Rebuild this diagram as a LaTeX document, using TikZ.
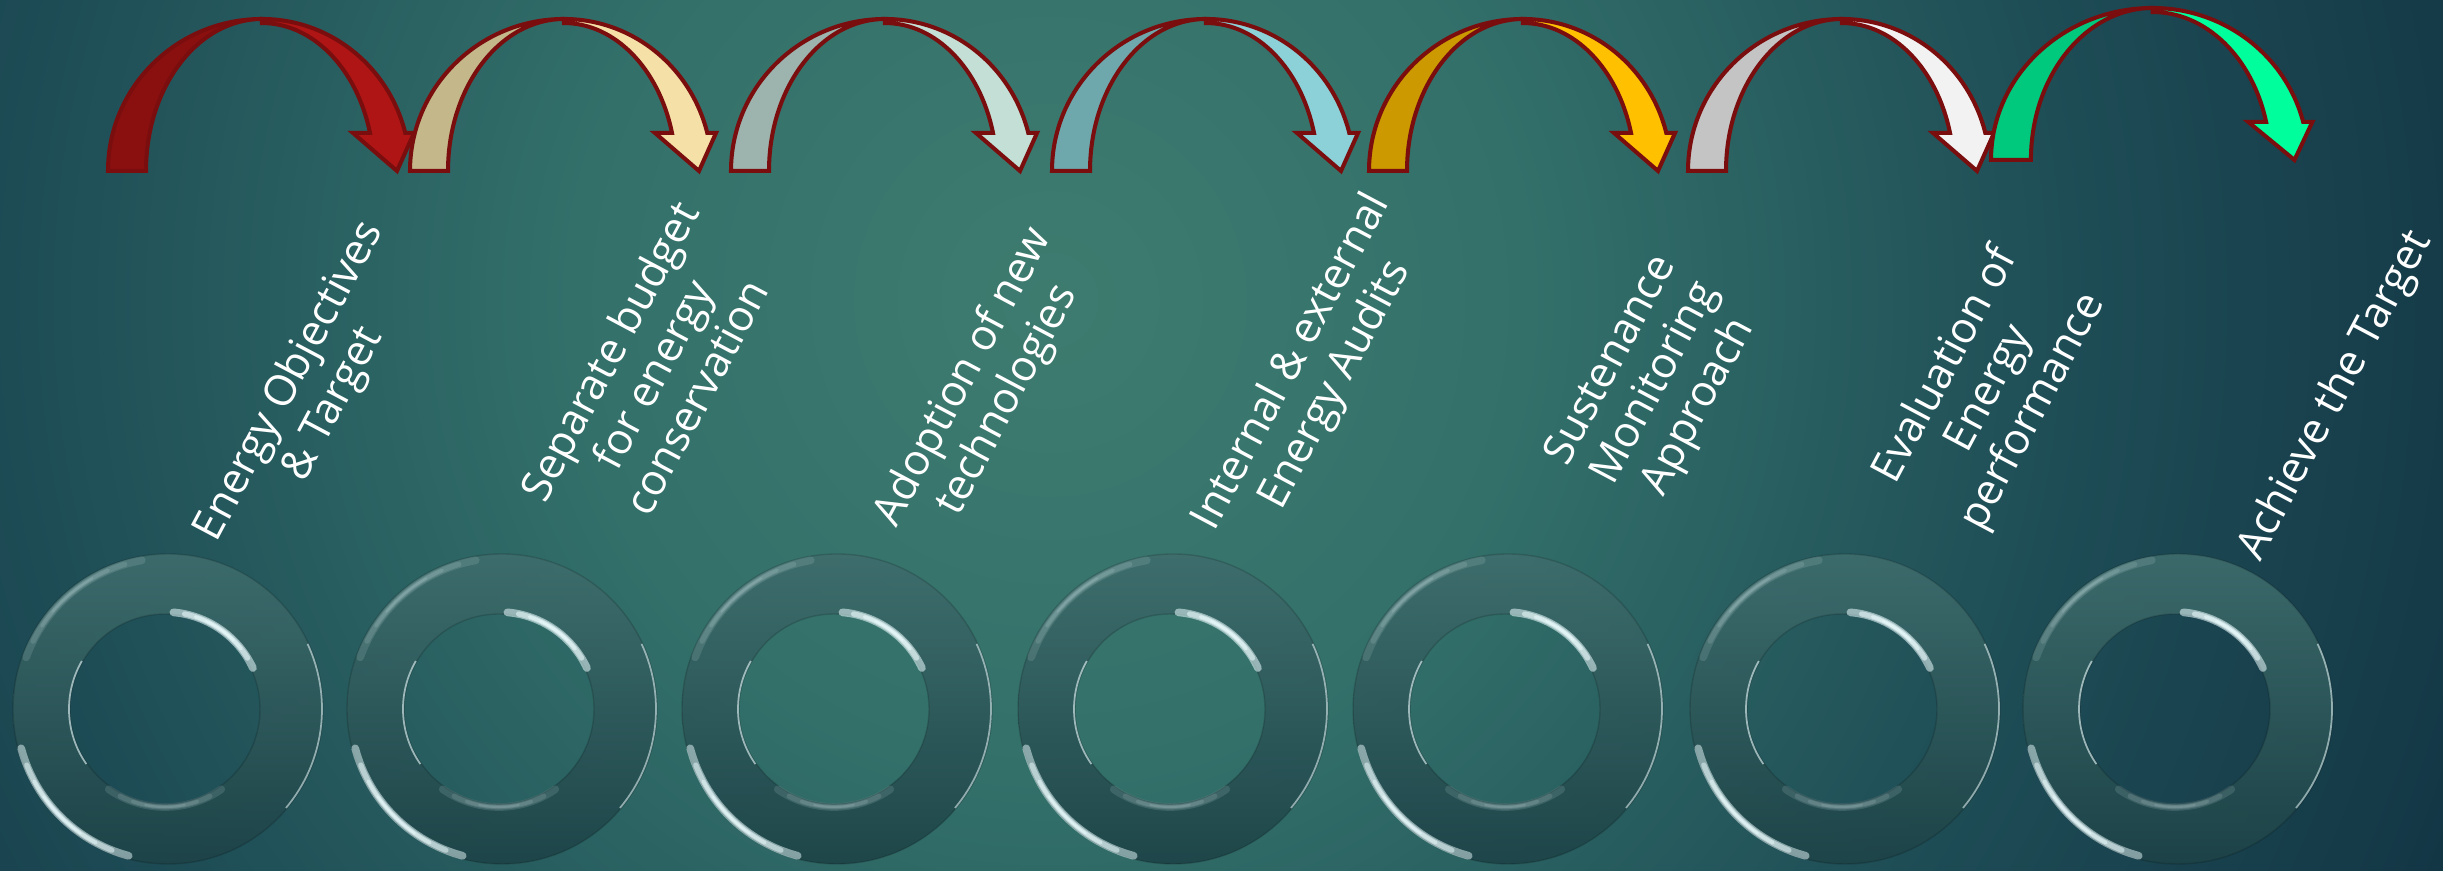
\documentclass[tikz,border=0pt]{standalone}
\usepackage{fontspec}
\setmainfont{Open Sans}
\definecolor{bgmid}{HTML}{3E7B6F}
\definecolor{bgnear}{HTML}{33706A}
\definecolor{bgfar}{HTML}{1E4D56}
\definecolor{bgedge}{HTML}{133645}
\definecolor{hopedge}{HTML}{7A0E0E}
\definecolor{ringtop}{HTML}{3F6D6D}
\definecolor{ringbot}{HTML}{1D4347}
\definecolor{glint}{HTML}{EAFBFD}
\definecolor{redback}{HTML}{8A1010}
\definecolor{redfront}{HTML}{B01515}
\definecolor{tanback}{HTML}{C4B88A}
\definecolor{tanfront}{HTML}{F5E1A8}
\definecolor{sageback}{HTML}{9DB3AD}
\definecolor{sagefront}{HTML}{C4E0D6}
\definecolor{tealback}{HTML}{6EA8AD}
\definecolor{tealfront}{HTML}{8CD0D8}
\definecolor{goldback}{HTML}{CC9900}
\definecolor{goldfront}{HTML}{FFC000}
\definecolor{greyback}{HTML}{C4C4C4}
\definecolor{greyfront}{HTML}{F2F2F2}
\definecolor{mintback}{HTML}{00C97E}
\definecolor{mintfront}{HTML}{00FF9C}
\pgfdeclareradialshading{bgglow}{\pgfpoint{0bp}{0bp}}{color(0bp)=(bgmid); color(8bp)=(bgnear); color(17bp)=(bgfar); color(25bp)=(bgedge); color(50bp)=(bgedge)}
\newcommand{\hoparrow}[5][1]{%
  \begin{scope}[shift={(#2,#3)}, xscale=#1]
    \filldraw[hopline, fill=#4] (0,0) arc[start angle=180, end angle=90, x radius=154, y radius=152]
      arc[start angle=90, end angle=180, x radius=116, y radius=152] -- cycle;
    \filldraw[hopline, fill=#5] (154,152) arc[start angle=90, end angle=14.5, x radius=148, y radius=152]
      -- (306,38) -- (289,0) -- (245,38) -- (262,38)
      arc[start angle=15.2, end angle=90, x radius=112, y radius=149] -- cycle;
  \end{scope}}
\newcommand{\glintarc}[5]{%
  \foreach \k/\w in {0/2.2,1/1.5,2/1.0,3/0.6}
    \draw[glint, line width=\w pt, opacity=#5, line cap=round]
      (#1) ++({#3+\k*(#4-#3)/9}:#2) arc[start angle={#3+\k*(#4-#3)/9}, end angle={#4-\k*(#4-#3)/9}, radius=#2];}
\newcommand{\glassring}[2]{%
  \begin{scope}[shift={(#1,#2)}]
    \shade[top color=ringtop, bottom color=ringbot, even odd rule, opacity=0.9] (0,0) circle (155) (-3,0) circle (95);
    \draw[black, opacity=0.15, line width=0.4pt] (0,0) circle (155) (-3,0) circle (95);
    \glintarc{0,0}{152}{195}{255}{0.5}
    \glintarc{0,0}{151}{100}{160}{0.12}
    \glintarc{-3,0}{97}{25}{85}{0.55}
    \glintarc{-3,0}{98}{235}{305}{0.12}
    \draw[glint, opacity=0.55, line width=0.5pt] (-40:154) arc[start angle=-40, end angle=25, radius=154];
    \draw[glint, opacity=0.6, line width=0.5pt] (-3,0) ++(150:96) arc[start angle=150, end angle=215, radius=96];
  \end{scope}}

\begin{document}
\begin{tikzpicture}[x=0.01cm,y=0.01cm,
  hopline/.style={draw=hopedge, line width=1.15pt},
  steplabel/.style={white, rotate=62, align=center, font=\fontsize{12.2}{14}\selectfont}]
\useasboundingbox (0,0) rectangle (2443,871);
\begin{scope}
\clip (0,0) rectangle (2443,871);
\fill[bgedge] (0,0) rectangle (2443,871);
\shade[shading=bgglow] (1050,571) circle (1500);
\end{scope}
\hoparrow{108}{700}{redback}{redfront}
\hoparrow{410}{700}{tanback}{tanfront}
\hoparrow{731}{700}{sageback}{sagefront}
\hoparrow{1052}{700}{tealback}{tealfront}
\hoparrow{1369}{700}{goldback}{goldfront}
\hoparrow{1688}{700}{greyback}{greyfront}
\hoparrow[1.05]{1991}{711}{mintback}{mintfront}
\glassring{168}{162}
\glassring{502}{162}
\glassring{837}{162}
\glassring{1173}{162}
\glassring{1508}{162}
\glassring{1845}{162}
\glassring{2178}{162}
\node[steplabel] (objectives) at (312,478) {Energy Objectives\\\& Target};
\node[steplabel] (budget) at (652,497) {Separate budget\\for energy\\conservation};
\node[steplabel] (adoption) at (986,482) {Adoption of new\\technologies};
\node[steplabel] (audits) at (1314,497) {Internal \& external\\Energy Audits};
\node[steplabel] (sustenance) at (1656,487) {Sustenance\\Monitoring\\Approach};
\node[steplabel] (evaluation) at (1990,482) {Evaluation of\\Energy\\performance};
\node[steplabel] (achieve) at (2336,475) {Achieve the Target};
\end{tikzpicture}
\end{document}
